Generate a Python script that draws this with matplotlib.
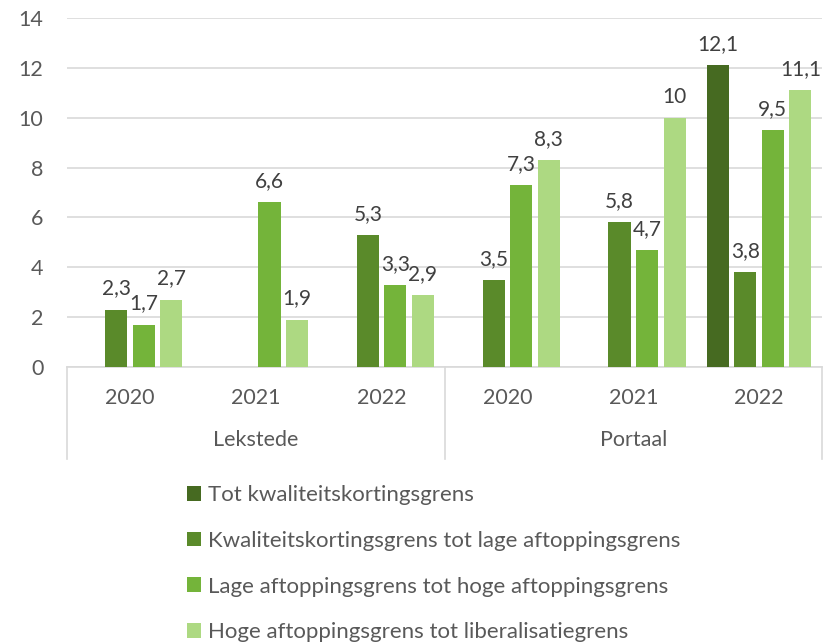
import matplotlib
matplotlib.use("Agg")
import matplotlib.pyplot as plt
import numpy as np
from matplotlib.transforms import blended_transform_factory
from matplotlib.patches import Patch

plt.rcParams['font.family'] = ['Lato', 'DejaVu Sans']

years = ["2020", "2021", "2022", "2020", "2021", "2022"]
groups = ["Lekstede", "Portaal"]
series_names = [
    "Tot kwaliteitskortingsgrens",
    "Kwaliteitskortingsgrens tot lage aftoppingsgrens",
    "Lage aftoppingsgrens tot hoge aftoppingsgrens",
    "Hoge aftoppingsgrens tot liberalisatiegrens",
]
tot_kwaliteit = [np.nan, np.nan, np.nan, np.nan, np.nan, 12.1]
kwal_tot_lage = [2.3, np.nan, 5.3, 3.5, 5.8, 3.8]
lage_tot_hoge = [1.7, 6.6, 3.3, 7.3, 4.7, 9.5]
hoge_tot_lib = [2.7, 1.9, 2.9, 8.3, 10.0, 11.1]
series = [tot_kwaliteit, kwal_tot_lage, lage_tot_hoge, hoge_tot_lib]
colors = ["#466A21", "#5A8A2A", "#74B43A", "#ADD982"]

W, H = 830, 643
fig = plt.figure(figsize=(W / 100, H / 100), dpi=100)
ax = fig.add_axes([67 / W, 1 - 367 / H, (822 - 67) / W, (367 - 18) / H])

x = np.arange(len(years))
step = 0.2186
bw = 0.175
def fmt(v):
    if np.isnan(v):
        return ""
    s = f"{v:.1f}"
    if s.endswith(".0"):
        s = s[:-2]
    return s.replace(".", ",")

for i, (vals, c) in enumerate(zip(series, colors)):
    off = (i - 1.5) * step
    bars = ax.bar(x + off, vals, width=bw, color=c, zorder=3)
    ax.bar_label(bars, labels=[fmt(v) for v in vals], padding=8,
                 fontsize=15, color="#404040")

ax.set_xlim(-0.5, 5.5)
ax.set_ylim(0, 14)
ax.set_yticks(np.arange(0, 15, 2))
ax.yaxis.grid(True, color="#D9D9D9", linewidth=1.2, zorder=0)
ax.set_axisbelow(True)
for s in ["top", "right", "left"]:
    ax.spines[s].set_visible(False)
ax.spines["bottom"].set_color("#D9D9D9")
ax.spines["bottom"].set_linewidth(1.2)
ax.tick_params(axis="y", length=0, pad=17, labelsize=15.5, labelcolor="#595959")
ax.set_xticks([])

trans = blended_transform_factory(ax.transData, ax.transAxes)
ax_h = 367 - 18
for i, y in enumerate(years):
    ax.text(i, -(398 - 367) / ax_h, y, transform=trans, ha="center", va="center",
            fontsize=15.5, color="#595959")
for gi, g in enumerate(groups):
    ax.text(gi * 3 + 1, -(440 - 367) / ax_h, g, transform=trans, ha="center",
            va="center", fontsize=15.5, color="#595959")
for xb in [-0.5, 2.5, 5.5]:
    ax.plot([xb, xb], [0, -(459 - 367) / ax_h], transform=trans, color="#D9D9D9",
            linewidth=1.2, clip_on=False)

handles = [Patch(facecolor=c, edgecolor="none") for c in colors]
fig.legend(handles, series_names, loc="upper left",
           bbox_to_anchor=(187 / W, 1 - 485 / H), frameon=False,
           fontsize=16, labelcolor="#595959", handlelength=0.65, handleheight=0.65,
           handletextpad=0.3, labelspacing=1.16, borderpad=0, borderaxespad=0)

fig.savefig("out.png", dpi=100)
